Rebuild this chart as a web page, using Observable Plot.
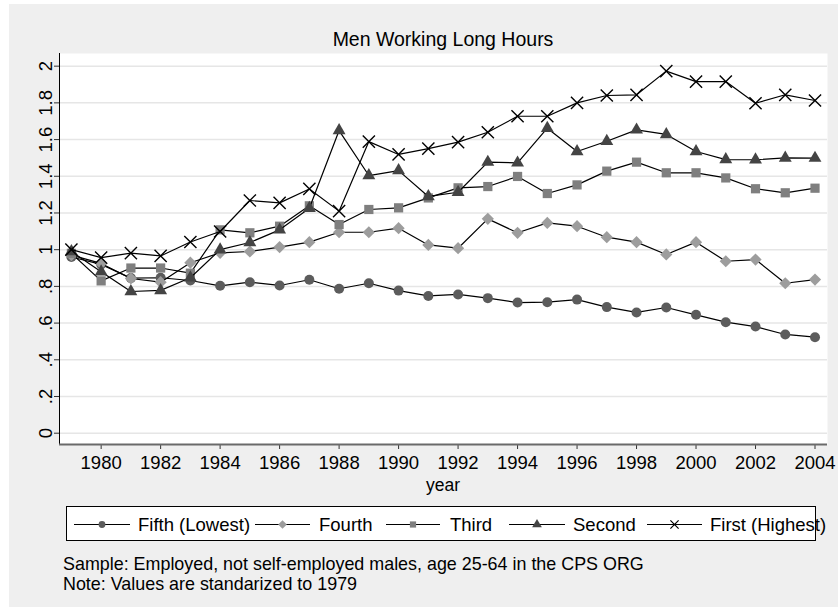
<!DOCTYPE html>
<html><head><meta charset="utf-8">
<script src="https://cdn.jsdelivr.net/npm/d3@7"></script>
<script src="https://cdn.jsdelivr.net/npm/@observablehq/plot@0.6"></script>
<style>
html,body{margin:0;padding:0;background:#fff;width:838px;height:613px;overflow:hidden;font-family:"Liberation Sans",Arial,sans-serif;}
#bg{position:absolute;left:9px;top:4px;width:829px;height:603px;background:#efefef;}
#chart{position:absolute;left:0;top:0;}
#title{position:absolute;left:59px;width:768px;top:29px;text-align:center;font-size:19.5px;line-height:20px;color:#000;white-space:nowrap;}
#xlabel{position:absolute;left:59px;width:768px;top:476px;text-align:center;font-size:17.5px;line-height:18px;color:#000;}
#legendbox{position:absolute;left:66px;top:506px;width:748px;height:33px;background:#fff;border:1px solid #000;}
#overlay{position:absolute;left:0;top:0;}
#caption{position:absolute;left:63px;top:554px;font-size:17.9px;line-height:20px;color:#000;white-space:nowrap;}
</style></head><body>
<div id="bg"></div>
<div id="title">Men Working Long Hours</div>
<div id="chart"></div>
<div id="xlabel">year</div>
<div id="legendbox"></div>
<svg id="overlay" width="838" height="613"></svg>
<div id="caption">Sample: Employed, not self-employed males, age 25-64 in the CPS ORG<br>Note: Values are standarized to 1979</div>
<script>
const years = [1979,1980,1981,1982,1983,1984,1985,1986,1987,1988,1989,1990,1991,1992,1993,1994,1995,1996,1997,1998,1999,2000,2001,2002,2003,2004];
const fifth  = [0.96,0.92,0.845,0.847,0.832,0.803,0.823,0.805,0.836,0.787,0.817,0.777,0.748,0.756,0.736,0.712,0.714,0.728,0.687,0.658,0.685,0.645,0.605,0.581,0.538,0.523];
const fourth = [0.97,0.925,0.843,0.823,0.929,0.983,0.990,1.014,1.041,1.095,1.095,1.117,1.026,1.008,1.168,1.092,1.146,1.128,1.068,1.041,0.974,1.041,0.937,0.946,0.817,0.837];
const third  = [0.98,0.83,0.90,0.90,0.872,1.108,1.092,1.128,1.239,1.137,1.219,1.228,1.282,1.337,1.344,1.399,1.306,1.353,1.428,1.477,1.419,1.419,1.391,1.332,1.310,1.335];
const second = [0.99,0.88,0.772,0.778,0.847,1.000,1.039,1.108,1.226,1.649,1.404,1.431,1.290,1.313,1.477,1.473,1.662,1.535,1.591,1.653,1.628,1.535,1.491,1.490,1.500,1.499];
const first  = [1.0,0.957,0.981,0.966,1.042,1.099,1.268,1.255,1.331,1.210,1.589,1.519,1.551,1.586,1.640,1.727,1.727,1.800,1.840,1.844,1.973,1.916,1.916,1.798,1.844,1.813];
const seriesNames = ["Fifth (Lowest)","Fourth","Third","Second","First (Highest)"];
const xTicks = [1980,1982,1984,1986,1988,1990,1992,1994,1996,1998,2000,2002,2004];
const yTicks = [0,0.2,0.4,0.6,0.8,1,1.2,1.4,1.6,1.8,2];
const yTickLabels = ["0",".2",".4",".6",".8","1","1.2","1.4","1.6","1.8","2"];

const styles = [
  {symbol:"circle",   fill:"#5c5c5c", r:5.0, lr:3.4},
  {symbol:"diamond2", fill:"#9d9d9d", r:5.5, lr:3.9},
  {symbol:"square",   fill:"#7f7f7f", r:5.2, lr:3.5},
  {symbol:"triangle", fill:"#444444", r:4.8, lr:3.6},
  {symbol:"times",    stroke:"#000",  r:5.6, lr:3.8}
];
const allValues = [fifth, fourth, third, second, first];
const rows = allValues.map((vals, k) => years.map((yr, i) => ({year: yr, value: vals[i], series: seriesNames[k]})));

const marks = [
  Plot.frame({fill:"white", stroke:null}),
  Plot.gridY(yTicks, {stroke:"#e6e6e6", strokeOpacity:1, strokeWidth:1.5}),
  Plot.axisY(yTicks, {tickSize:5, tickPadding:3, tickRotate:-90, tickFormat:(d,i)=>yTickLabels[i], stroke:"#333", fontSize:18.5, label:null}),
  Plot.axisX(xTicks, {tickSize:5, tickPadding:6, tickFormat:d=>String(d), stroke:"#333", fontSize:18.5, label:null}),
  Plot.ruleX([1978.6], {stroke:"#000", strokeWidth:1}),
  Plot.ruleY([-0.0616], {stroke:"#6a6a6a", strokeWidth:2})
];
rows.forEach((data, k) => {
  const s = styles[k];
  marks.push(Plot.line(data, {x:"year", y:"value", stroke:"#000", strokeWidth:1.2}));
  if (s.symbol === "times") {
    marks.push(Plot.dot(data, {x:"year", y:"value", symbol:"times", r:s.r, stroke:s.stroke, strokeWidth:1.4, fill:"none"}));
  } else {
    marks.push(Plot.dot(data, {x:"year", y:"value", symbol:s.symbol, r:s.r, fill:s.fill, stroke:"none"}));
  }
});

const chart = Plot.plot({
  width:838, height:500,
  marginLeft:59, marginRight:11, marginTop:53, marginBottom:56,
  style:{background:"transparent", fontFamily:"Liberation Sans, Arial, sans-serif", fontSize:"18px", color:"#000", overflow:"visible"},
  x:{domain:[1978.6,2004.42]},
  y:{domain:[-0.0616,2.069]},
  marks
});
document.getElementById("chart").appendChild(chart);

// legend
const ov = d3.select("#overlay");
const legendItems = [
  {x1:74, x2:130, tx:138},
  {x1:255, x2:310, tx:319},
  {x1:386, x2:440, tx:450},
  {x1:509, x2:565, tx:573},
  {x1:647, x2:702, tx:710}
];
const symMap = {circle:d3.symbolCircle, diamond2:d3.symbolDiamond2, square:d3.symbolSquare, triangle:d3.symbolTriangle, times:d3.symbolTimes};
const ly = 524.5;
legendItems.forEach((it, k) => {
  const s = styles[k];
  ov.append("line").attr("x1", it.x1).attr("x2", it.x2).attr("y1", ly).attr("y2", ly).attr("stroke", "#000").attr("stroke-width", 1.2);
  const cx = (it.x1 + it.x2) / 2;
  const rr = s.lr;
  const p = ov.append("path").attr("transform", `translate(${cx},${ly})`).attr("d", d3.symbol(symMap[s.symbol], rr*rr*Math.PI)());
  if (s.symbol === "times") p.attr("fill", "none").attr("stroke", "#000").attr("stroke-width", 1.2);
  else p.attr("fill", s.fill);
  ov.append("text").attr("x", it.tx).attr("y", ly + 6.5).attr("font-size", 18.5).attr("font-family", "Liberation Sans, Arial, sans-serif").attr("fill", "#000").text(seriesNames[k]);
});
</script>
</body></html>
